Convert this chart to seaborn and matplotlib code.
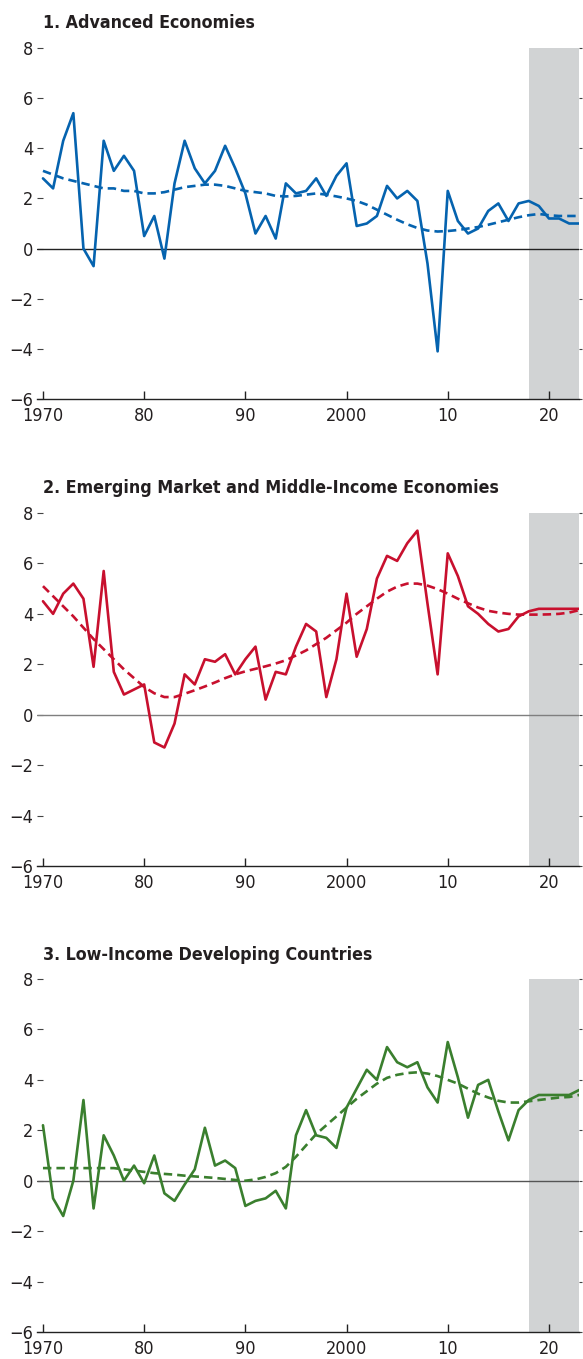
import numpy as np
import pandas as pd
import seaborn as sns
import matplotlib.pyplot as plt

years = list(range(1970, 2024))

adv_actual = [2.8, 2.4, 4.3, 5.4, 0.0, -0.7, 4.3, 3.1, 3.7, 3.1,
              0.5, 1.3, -0.4, 2.6, 4.3, 3.2, 2.6, 3.1, 4.1, 3.2,
              2.2, 0.6, 1.3, 0.4, 2.6, 2.2, 2.3, 2.8, 2.1, 2.9,
              3.4, 0.9, 1.0, 1.3, 2.5, 2.0, 2.3, 1.9, -0.6, -4.1,
              2.3, 1.1, 0.6, 0.8, 1.5, 1.8, 1.1, 1.8, 1.9, 1.7,
              1.2, 1.2, 1.0, 1.0]
adv_trend = [3.1, 2.95, 2.8, 2.7, 2.6, 2.5, 2.4, 2.4, 2.3, 2.3,
             2.2, 2.2, 2.25, 2.35, 2.45, 2.5, 2.55, 2.55, 2.5, 2.4,
             2.3, 2.25, 2.2, 2.1, 2.08, 2.1, 2.15, 2.2, 2.15, 2.08,
             2.0, 1.9, 1.75, 1.55, 1.35, 1.15, 0.97, 0.82, 0.72, 0.68,
             0.7, 0.74, 0.8, 0.86, 0.95, 1.05, 1.15, 1.25, 1.33, 1.38,
             1.33, 1.3, 1.3, 1.3]

em_actual = [4.5, 4.0, 4.8, 5.2, 4.6, 1.9, 5.7, 1.7, 0.8, 1.0,
             1.2, -1.1, -1.3, -0.35, 1.6, 1.2, 2.2, 2.1, 2.4, 1.6,
             2.2, 2.7, 0.6, 1.7, 1.6, 2.7, 3.6, 3.3, 0.7, 2.2,
             4.8, 2.3, 3.4, 5.4, 6.3, 6.1, 6.8, 7.3, 4.4, 1.6,
             6.4, 5.5, 4.3, 4.0, 3.6, 3.3, 3.4, 3.9, 4.1, 4.2,
             4.2, 4.2, 4.2, 4.2]
em_trend = [5.1, 4.7, 4.3, 3.9, 3.45, 3.0, 2.6, 2.2, 1.8, 1.45,
            1.1, 0.85, 0.7, 0.7, 0.83, 0.97, 1.12, 1.28, 1.45, 1.6,
            1.72, 1.82, 1.92, 2.03, 2.16, 2.35, 2.55, 2.8, 3.05, 3.35,
            3.65, 4.0, 4.3, 4.6, 4.88, 5.08, 5.2, 5.2, 5.12, 4.98,
            4.8, 4.6, 4.42, 4.25, 4.12, 4.05, 4.0, 3.97, 3.97, 3.97,
            3.98, 4.0, 4.05, 4.15]

lidc_actual = [2.2, -0.7, -1.4, 0.0, 3.2, -1.1, 1.8, 1.0, 0.0, 0.6,
               -0.1, 1.0, -0.5, -0.8, -0.15, 0.45, 2.1, 0.6, 0.8, 0.5,
               -1.0, -0.8, -0.7, -0.4, -1.1, 1.8, 2.8, 1.8, 1.7, 1.3,
               2.9, 3.65, 4.4, 4.0, 5.3, 4.7, 4.5, 4.7, 3.7, 3.1,
               5.5, 4.1, 2.5, 3.8, 4.0, 2.75, 1.6, 2.8, 3.2, 3.4,
               3.4, 3.4, 3.4, 3.6]
lidc_trend = [0.5, 0.5, 0.5, 0.5, 0.5, 0.5, 0.5, 0.5, 0.45, 0.4,
              0.35, 0.3, 0.27, 0.24, 0.2, 0.17, 0.14, 0.11, 0.07, 0.03,
              0.0, 0.05, 0.15, 0.3, 0.55, 0.95, 1.4, 1.85, 2.2, 2.55,
              2.9, 3.25, 3.55, 3.85, 4.08, 4.2, 4.27, 4.3, 4.25, 4.15,
              4.0, 3.85, 3.65, 3.45, 3.3, 3.17, 3.1, 3.1, 3.15, 3.2,
              3.25, 3.3, 3.32, 3.4]

titles = ['1. Advanced Economies',
          '2. Emerging Market and Middle-Income Economies',
          '3. Low-Income Developing Countries']
colors = ['#0563AF', '#C8102E', '#3A7F2E']
zero_colors = ['#222222', '#7f7f7f', '#555555']
xticks = [1970, 1980, 1990, 2000, 2010, 2020]
xticklabels = ['1970', '80', '90', '2000', '10', '20']
yticks = [-6, -4, -2, 0, 2, 4, 6, 8]
ytick_labels = ['\u22126', '\u22124', '\u22122', '0', '2', '4', '6', '8']
shade_start, shade_end = 2018, 2023

sns.set_style('white')
plt.rcParams['font.family'] = ['DejaVu Sans']
plt.rcParams['font.stretch'] = 'condensed'

fig = plt.figure(figsize=(5.83, 13.59), dpi=100)
W, H = 583, 1359
# (top px, bottom px) of each panel
panels = [(48, 399), (513, 866), (979, 1332)]
title_y = [23, 488, 955]
left_px, right_px = 36.9, 579.3

data = [(adv_actual, adv_trend), (em_actual, em_trend), (lidc_actual, lidc_trend)]

for i, (top, bot) in enumerate(panels):
    ax = fig.add_axes([left_px / W, 1 - bot / H, (right_px - left_px) / W, (bot - top) / H])
    actual, trend = data[i]
    ax.axvspan(shade_start, shade_end, color='#D1D3D4', lw=0, zorder=0)
    ax.axhline(0, color=zero_colors[i], lw=1.0, zorder=1)
    sns.lineplot(x=years, y=trend, ax=ax, color=colors[i], lw=1.9,
                 linestyle=(0, (3.2, 1.9)), zorder=3)
    sns.lineplot(x=years, y=actual, ax=ax, color=colors[i], lw=1.9, zorder=4)
    ax.set_xlim(1969.4, 2023.0)
    ax.set_ylim(-6, 8)
    for s in ['top', 'right']:
        ax.spines[s].set_visible(False)
    ax.spines['left'].set_position(('data', 1970))
    ax.spines['left'].set_color('none')
    ax.spines['bottom'].set_color('#222222')
    ax.spines['bottom'].set_linewidth(1.0)
    ax.set_xticks(xticks)
    ax.set_xticklabels(xticklabels)
    ax.set_yticks(yticks)
    ax.set_yticklabels(ytick_labels)
    ax.tick_params(axis='x', bottom=True, direction='in', length=5.5, width=1.0,
                   color='#222222', pad=6, labelsize=13, labelcolor='#231F20')
    ax.tick_params(axis='y', left=True, direction='out', length=4.3, width=0.8,
                   color='#444444', pad=2.5, labelsize=13, labelcolor='#231F20')
    sec = ax.secondary_yaxis('right')
    sec.set_yticks(yticks)
    sec.set_yticklabels([])
    sec.spines['right'].set_visible(False)
    sec.tick_params(right=True, direction='out', length=2.2, width=0.8, color='#444444')
    ax.set_xlabel('')
    ax.set_ylabel('')
    fig.text(43 / W, 1 - title_y[i] / H, titles[i], fontsize=12.8, fontweight='bold',
             color='#231F20', ha='left', va='center')

plt.savefig('out.png', dpi=100)
